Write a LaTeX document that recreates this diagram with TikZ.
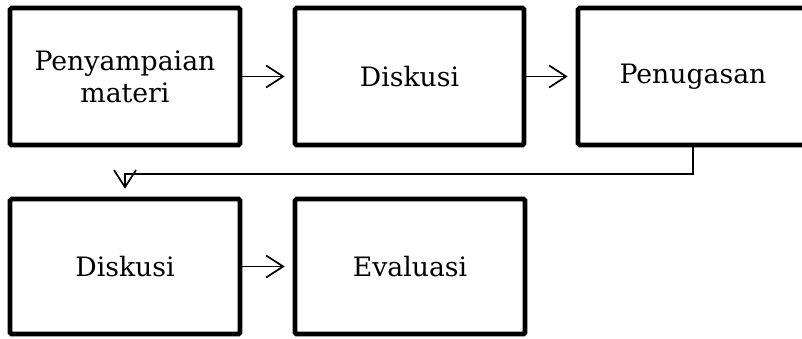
\documentclass[tikz,border=0pt]{standalone}
\usepackage{fontspec}
\setmainfont{DejaVu Serif}
\usetikzlibrary{arrows.meta}
\begin{document}
\begin{tikzpicture}[x=1pt,y=1pt,
  box/.style={draw=black,line width=4.6pt,rounded corners=1.5pt,minimum width=230pt,minimum height=137pt,inner sep=0pt,align=center,font=\fontsize{26.7}{32}\selectfont},
  conn/.style={draw=black,line width=1.7pt,-{Straight Barb[length=17pt,width=22pt,line width=1.7pt]},shorten >=8pt}]
\clip (0,0) rectangle (802,-338);
\useasboundingbox (0,0) rectangle (802,-338);
\node[box] (b1) at (125,-76.5) {Penyampaian\\materi};
\node[box,minimum width=229pt] (b2) at (409.5,-76.5) {Diskusi};
\node[box] (b3) at (693,-76.5) {Penugasan};
\node[box,minimum height=135pt] (b4) at (125,-266.5) {Diskusi};
\node[box,minimum height=135pt] (b5) at (410,-266.5) {Evaluasi};
\draw[conn] (b1.east) -- (b2.west);
\draw[conn] (b2.east) -- (b3.west);
\draw[conn] (b4.east) -- (b5.west);
\coordinate (m) at ([yshift=-27pt]b3.south);
\draw[conn] (b3.south) -- (m) -| (b4.north);
\end{tikzpicture}
\end{document}
